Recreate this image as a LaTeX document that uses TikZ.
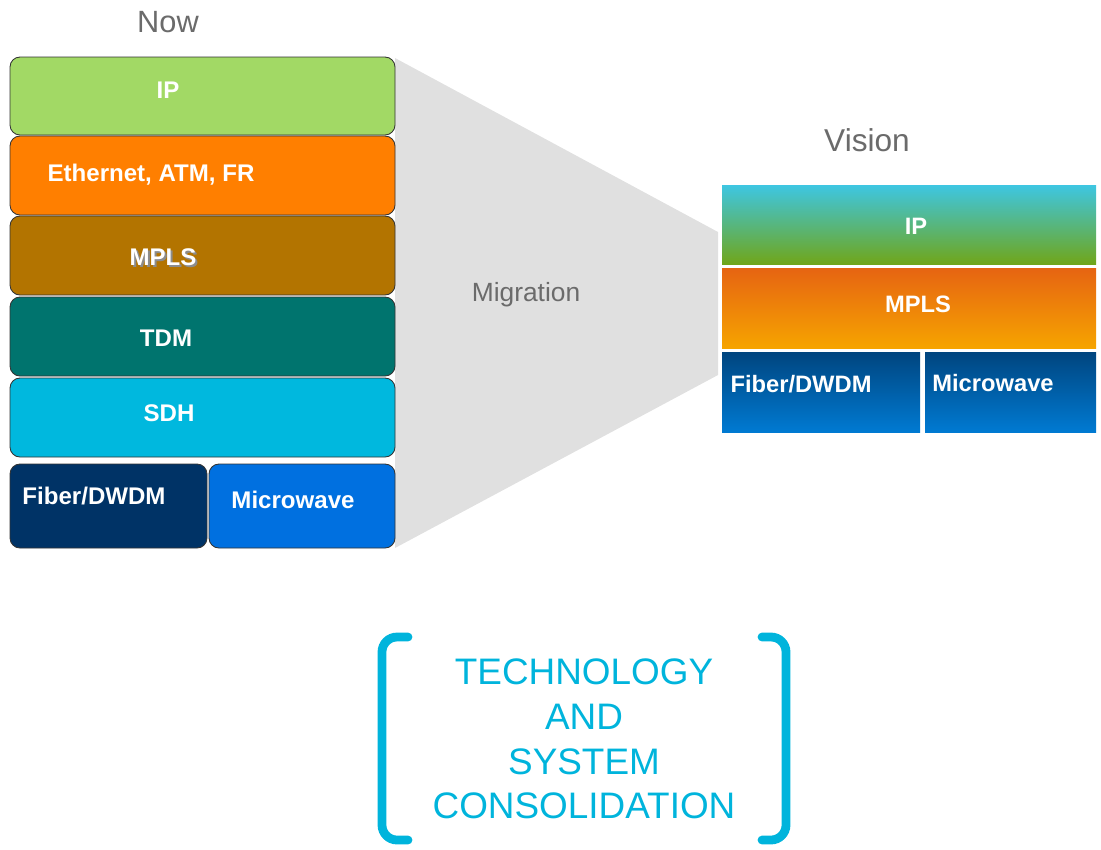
\documentclass[tikz,border=0pt]{standalone}
\usepackage{fontspec}
\setmainfont{Liberation Sans}
\definecolor{ipgreen}{HTML}{A2D965}
\definecolor{ethorange}{HTML}{FF7F00}
\definecolor{mplsbrown}{HTML}{B37400}
\definecolor{tdmteal}{HTML}{00746E}
\definecolor{sdhcyan}{HTML}{00B8DE}
\definecolor{fibernavy}{HTML}{003366}
\definecolor{mwblue}{HTML}{0070E0}
\definecolor{captgray}{HTML}{6B6B6B}
\definecolor{funnelgray}{HTML}{E0E0E0}
\definecolor{consocyan}{HTML}{00B4DC}
\tikzset{
  layer/.style={draw=black!80, line width=0.5pt, rounded corners=0.2cm},
  lbl/.style={text=white, font=\bfseries\fontsize{13.7}{16}\selectfont},
  caption/.style={text=captgray, font=\fontsize{17.5}{20}\selectfont},
  bracketline/.style={draw=consocyan, line width=5pt, line cap=round, rounded corners=0.3cm}
}
\begin{document}
\begin{tikzpicture}[x=0.02cm, y=-0.02cm]
   \useasboundingbox (0,0) rectangle (1101,849);
   % migration funnel
   \fill[funnelgray] (395,58) -- (718,232) -- (718,375) -- (395,548) -- cycle;
   \node[caption, font=\fontsize{15}{17}\selectfont] (migration) at (526,295) {Migration};
   % now
   \node[caption] (now) at (168,22) {Now};
   \draw[layer, fill=ipgreen]    (10,57)  rectangle (395,135);
   \draw[layer, fill=ethorange]  (10,136) rectangle (395,215);
   \draw[layer, fill=mplsbrown]  (10,216) rectangle (395,295);
   \draw[layer, fill=tdmteal]    (10,297) rectangle (395,376);
   \draw[layer, fill=sdhcyan]    (10,378) rectangle (395,457);
   \draw[layer, fill=fibernavy]  (10,464) rectangle (207,548);
   \draw[layer, fill=mwblue]     (209,464) rectangle (395,548);
   \node[lbl] (nowip) at (168,90) {IP};
   \node[lbl] (noweth) at (151,175) {Ethernet, ATM, FR};
   \node[lbl, text=black!45] at (165,259) {MPLS};
   \node[lbl] (nowmpls) at (163,257) {MPLS};
   \node[lbl] (nowtdm) at (166,338) {TDM};
   \node[lbl] (nowsdh) at (169,413) {SDH};
   \node[lbl] (nowfiber) at (94,496) {Fiber/DWDM};
   \node[lbl] (nowmw) at (293,500) {Microwave};
   % vision
   \node[caption, font=\fontsize{18}{21}\selectfont] (vision) at (867,140) {Vision};
   \shade[top color={rgb,255:red,62;green,198;blue,226}, bottom color={rgb,255:red,112;green,166;blue,26}]
      (722,185) rectangle (1096,264);
   \shade[top color={rgb,255:red,230;green,100;blue,18}, bottom color={rgb,255:red,246;green,164;blue,0}]
      (722,268) rectangle (1096,348);
   \shade[top color={rgb,255:red,0;green,69;blue,127}, bottom color={rgb,255:red,0;green,122;blue,210}]
      (722,352) rectangle (920,432);
   \shade[top color={rgb,255:red,0;green,69;blue,127}, bottom color={rgb,255:red,0;green,122;blue,210}]
      (925,352) rectangle (1096,432);
   \node[lbl, font=\bfseries\fontsize{13.5}{16}\selectfont] (visip) at (916,226) {IP};
   \node[lbl, font=\bfseries\fontsize{13.5}{16}\selectfont] (vismpls) at (918,304) {MPLS};
   \node[lbl, font=\bfseries\fontsize{13.5}{16}\selectfont] (visfiber) at (801,384) {Fiber/DWDM};
   \node[lbl, font=\bfseries\fontsize{13.5}{16}\selectfont] (vismw) at (993,383) {Microwave};
   % consolidation
   \draw[bracketline] (408,637) -- (382,637) -- (382,840) -- (408,840);
   \draw[bracketline] (762,637) -- (786,637) -- (786,840) -- (762,840);
   \node[text=consocyan, align=center, font=\fontsize{21}{25.5}\selectfont] (conso) at (584,739)
      {TECHNOLOGY\\AND\\SYSTEM\\CONSOLIDATION};
\end{tikzpicture}
\end{document}
